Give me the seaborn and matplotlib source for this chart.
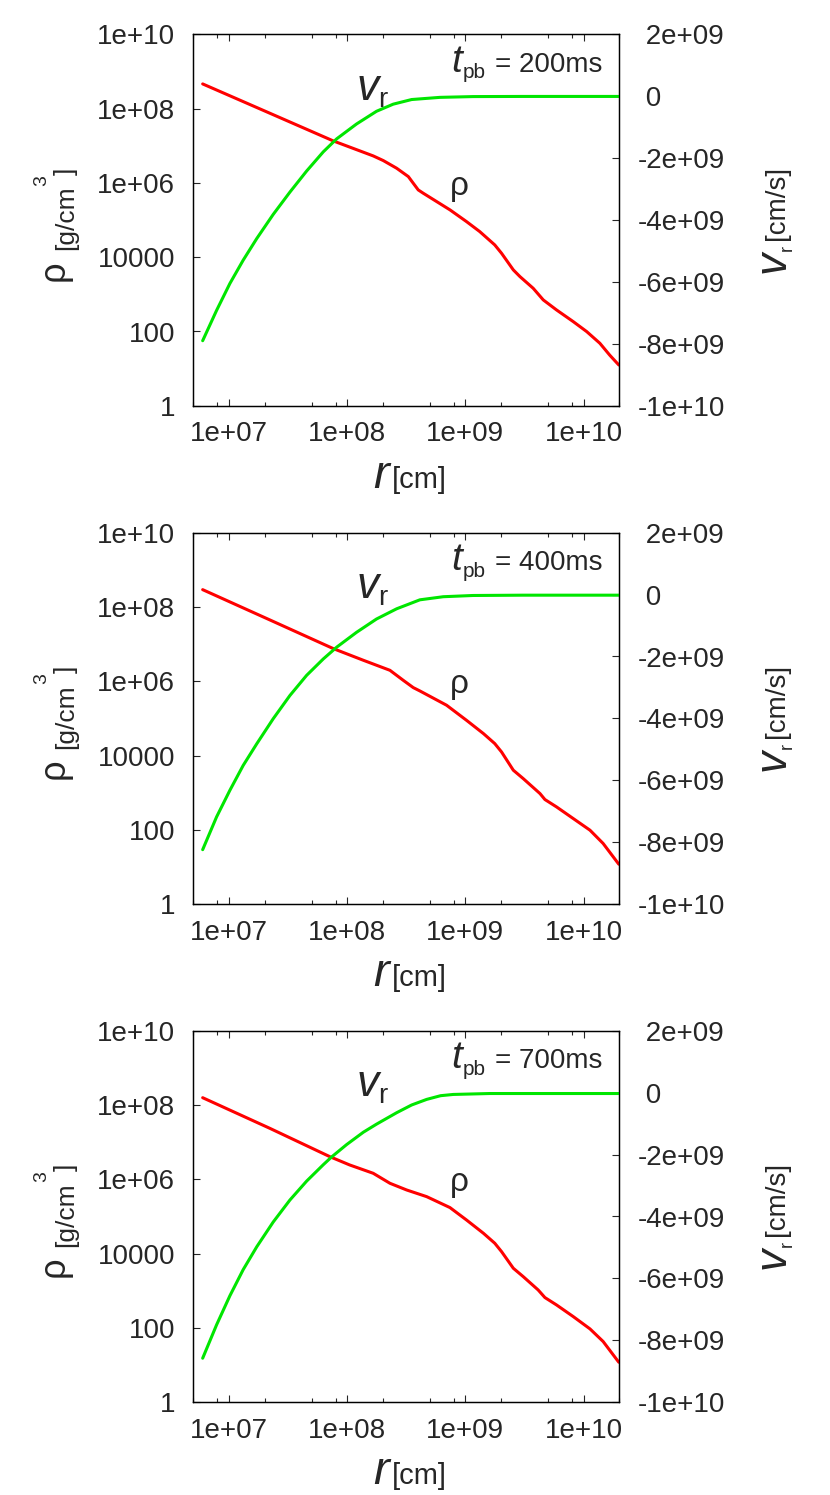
import matplotlib
matplotlib.use("Agg")
from matplotlib import pyplot as plt
from matplotlib.ticker import FixedLocator, FuncFormatter, LogLocator, NullFormatter, NullLocator
import pandas as pd
import seaborn as sns

# density profiles (r in cm, rho in g/cm^3)
r200_rho = [6.00e6, 2.22e7, 7.64e7, 1.66e8, 2.02e8, 2.62e8, 3.29e8, 3.62e8, 3.99e8, 4.40e8,
            7.40e8, 1.02e9, 1.32e9, 1.77e9, 2.02e9, 2.54e9, 2.89e9, 3.74e9, 4.55e9, 5.89e9,
            8.15e9, 1.06e10, 1.37e10, 1.66e10, 1.98e10]
rho200 = [4.59e8, 7.46e7, 1.34e7, 5.30e6, 3.97e6, 2.47e6, 1.47e6, 9.75e5, 6.44e5, 5.24e5,
          1.87e5, 9.06e4, 4.88e4, 2.13e4, 1.27e4, 4.53e3, 2.99e3, 1.45e3, 705, 379,
          184, 99, 48, 23, 12.5]

r400_rho = [6.00e6, 2.22e7, 7.64e7, 1.37e8, 2.30e8, 2.98e8, 3.62e8, 4.12e8, 6.93e8, 1.02e9,
            1.42e9, 1.77e9, 2.02e9, 2.54e9, 3.08e9, 4.27e9, 4.70e9, 5.89e9, 8.15e9, 1.13e10,
            1.46e10, 1.98e10]
rho400 = [2.92e8, 4.47e7, 7.55e6, 3.67e6, 1.97e6, 1.06e6, 6.75e5, 5.48e5, 2.26e5, 8.91e4,
          3.90e4, 2.10e4, 1.25e4, 4.03e3, 2.40e3, 948, 655, 415, 202, 98,
          43, 11.9]

r700_rho = [6.00e6, 2.22e7, 7.14e7, 1.05e8, 1.66e8, 2.30e8, 3.18e8, 4.70e8, 7.40e8, 1.02e9,
            1.42e9, 1.77e9, 2.02e9, 2.54e9, 3.08e9, 4.12e9, 4.70e9, 5.89e9, 8.15e9, 1.13e10,
            1.46e10, 1.98e10]
rho700 = [1.57e8, 2.35e7, 4.06e6, 2.43e6, 1.45e6, 7.80e5, 5.16e5, 3.41e5, 1.73e5, 8.04e4,
          3.52e4, 1.90e4, 1.13e4, 4.03e3, 2.40e3, 1.05e3, 655, 415, 202, 94,
          43, 11.9]

# radial velocity profiles (r in cm, v_r in cm/s)
r200_v = [6.00e6, 7.87e6, 1.02e7, 1.32e7, 1.72e7, 2.37e7, 3.28e7, 4.54e7, 6.28e7, 8.15e7,
          1.20e8, 1.77e8, 2.45e8, 3.51e8, 6.08e8, 1.16e9, 3.08e9, 1.98e10]
v200 = [-7.90e9, -6.92e9, -6.05e9, -5.30e9, -4.60e9, -3.82e9, -3.10e9, -2.42e9, -1.80e9, -1.38e9,
        -0.90e9, -0.49e9, -0.26e9, -0.11e9, -0.04e9, -0.015e9, -0.01e9, -0.01e9]

r400_v = [6.00e6, 7.87e6, 1.02e7, 1.32e7, 1.72e7, 2.37e7, 3.28e7, 4.54e7, 6.28e7, 8.15e7,
          1.20e8, 1.77e8, 2.62e8, 4.12e8, 6.49e8, 1.16e9, 3.08e9, 1.98e10]
v400 = [-8.24e9, -7.18e9, -6.32e9, -5.52e9, -4.82e9, -4.01e9, -3.26e9, -2.61e9, -2.08e9, -1.70e9,
        -1.22e9, -0.79e9, -0.46e9, -0.17e9, -0.07e9, -0.03e9, -0.02e9, -0.02e9]

r700_v = [6.00e6, 7.87e6, 1.02e7, 1.32e7, 1.72e7, 2.37e7, 3.28e7, 4.54e7, 6.28e7, 7.38e7,
          9.89e7, 1.37e8, 1.77e8, 2.62e8, 3.51e8, 4.70e8, 6.17e8, 7.89e8, 1.61e9, 1.98e10]
v700 = [-8.58e9, -7.50e9, -6.56e9, -5.72e9, -4.98e9, -4.18e9, -3.47e9, -2.86e9, -2.33e9, -2.08e9,
        -1.68e9, -1.28e9, -1.02e9, -0.65e9, -0.40e9, -0.22e9, -0.10e9, -0.06e9, -0.03e9, -0.03e9]

times = ["200ms", "400ms", "700ms"]
panels = [(r200_rho, rho200, r200_v, v200),
          (r400_rho, rho400, r400_v, v400),
          (r700_rho, rho700, r700_v, v700)]

x_ticks = [1e7, 1e8, 1e9, 1e10]
rho_ticks = [1, 100, 1e4, 1e6, 1e8, 1e10]
v_ticks = [-1e10, -8e9, -6e9, -4e9, -2e9, 0, 2e9]

sns.set_style("white")
plt.rcParams['font.family'] = ['Liberation Sans', 'DejaVu Sans']
plt.rcParams['axes.unicode_minus'] = False
plt.rcParams['font.size'] = 20

W, H = 830, 1495
fig = plt.figure(figsize=(W / 100, 14.951), dpi=100)
renderer = fig.canvas.get_renderer()


def rich(x, y, pieces, rot=0):
    # x, y: image pixels of the baseline start; shift > 0 moves below the baseline
    pos = 0.0
    for s, size, style, shift, gap in pieces:
        pos += gap
        if rot == 0:
            px, py = x + pos, H - y - shift
        else:
            px, py = x + shift, H - y + pos
        t = fig.text(px / W, py / H, s, fontsize=size, style=style, rotation=rot,
                     rotation_mode='anchor', ha='left', va='baseline')
        bb = t.get_window_extent(renderer)
        pos += bb.width if rot == 0 else bb.height


tops = [34.3, 532.7, 1030.7]
ph = 371.5
for (r_rho, rho, r_v, v), tpb, top in zip(panels, times, tops):
    dy = top - tops[0]
    ax = fig.add_axes([193.3 / W, 1 - (top + ph) / H, 426 / W, ph / H])
    ax.set_xscale('log')
    ax.set_yscale('log')
    df_rho = pd.DataFrame({'r': r_rho, 'rho': rho})
    sns.lineplot(data=df_rho, x='r', y='rho', ax=ax, color='#ff0000', lw=2.2)
    ax.set_xlim(5e6, 2e10)
    ax.set_ylim(1, 1e10)

    ax2 = ax.twinx()
    df_v = pd.DataFrame({'r': r_v, 'v': v})
    sns.lineplot(data=df_v, x='r', y='v', ax=ax2, color='#00e600', lw=2.2)
    ax2.set_ylim(-1e10, 2e9)
    ax2.set_xlim(5e6, 2e10)

    for a in (ax, ax2):
        a.set_xlabel('')
        a.set_ylabel('')
        for sp in a.spines.values():
            sp.set_color('black')
            sp.set_linewidth(0.9)

    ax.xaxis.set_major_locator(FixedLocator(x_ticks))
    ax.xaxis.set_major_formatter(FuncFormatter(lambda val, p: f"{val:g}"))
    ax.xaxis.set_minor_locator(LogLocator(base=10, subs=(2, 5, 8)))
    ax.xaxis.set_minor_formatter(NullFormatter())
    ax.yaxis.set_major_locator(FixedLocator(rho_ticks))
    ax.yaxis.set_major_formatter(FuncFormatter(lambda val, p: f"{val:g}"))
    ax.yaxis.set_minor_locator(NullLocator())
    ax.tick_params(axis='x', which='major', direction='in', top=True, bottom=True,
                   length=5, width=0.8, pad=11, labelsize=20)
    ax.tick_params(axis='x', which='minor', direction='in', top=True, bottom=True,
                   length=3, width=0.8)
    ax.tick_params(axis='y', which='major', direction='in', left=True, right=False,
                   length=5, width=0.8, pad=13, labelsize=20)

    ax2.yaxis.set_major_locator(FixedLocator(v_ticks))
    ax2.yaxis.set_major_formatter(FuncFormatter(
        lambda val, p: f"{val:g}" if val < 0 else " " + f"{val:g}"))
    ax2.yaxis.set_minor_locator(NullLocator())
    ax2.tick_params(axis='y', which='major', direction='in', left=False, right=True,
                    length=5, width=0.8, pad=13.5, labelsize=20)

    # in-plot labels
    rich(451.7, 71.7 + dy, [("t", 28, 'italic', 0, 0), ("pb", 15, 'normal', 6.7, 0),
                            ("= " + tpb, 20, 'normal', 0, 10)])
    rich(356.7, 100 + dy, [("v", 32, 'italic', 0, 0), ("r", 20, 'normal', 6.7, -1)])
    rich(450, 195 + dy, [("ρ", 24, 'normal', 0, 0)])

    # axis labels
    rich(373, 488 + dy, [("r", 34, 'italic', 0, 0), ("[cm]", 21, 'normal', 0, 3)])
    rich(73, 281 + dy, [("ρ", 26, 'normal', -9, 0), ("[g/cm", 19, 'normal', 0, 10),
                        ("3", 14, 'normal', -27, 0), ("]", 19, 'normal', 0, 0)], rot=90)
    rich(785, 273 + dy, [("v", 32, 'italic', 0, 0), ("r", 13, 'normal', 7, 0),
                         ("[cm/s]", 20, 'normal', -1, 5)], rot=90)

fig.savefig("out.png", dpi=100)
